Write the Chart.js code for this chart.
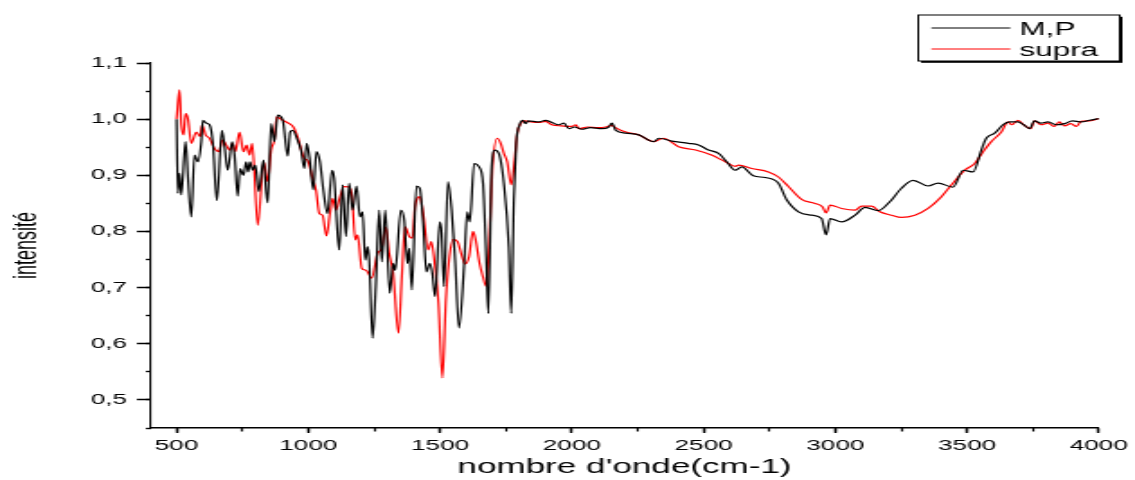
<!DOCTYPE html>
<html>
<head>
<meta charset="utf-8">
<script src="https://cdn.jsdelivr.net/npm/chart.js@4.4.1/dist/chart.umd.min.js"></script>
<style>
  html, body { margin: 0; padding: 0; background: #fff; }
</style>
</head>
<body>
<!-- el lienzo se dibuja a 631px y se estira a 1135px, como la figura original -->
<canvas id="graf" width="631" height="480" style="display:block;width:1135px;height:480px"></canvas>
<script>
const fuente = '"Liberation Sans", Arial, sans-serif';

// marcas de los ejes
const ticksOnda = [500, 1000, 1500, 2000, 2500, 3000, 3500, 4000];
const ticksInt = [0.5, 0.6, 0.7, 0.8, 0.9, 1.0, 1.1];

// M,P (negro)
const ondaMP = [500, 505, 511, 518, 534, 543, 556, 568, 581, 594, 600, 612, 625, 638, 653, 672, 682, 694, 711, 720,
  732, 741, 754, 764, 772, 779, 789, 799, 812, 830, 840, 846, 859, 871, 884, 903, 922, 931, 941, 959,
  972, 985, 994, 1004, 1019, 1031, 1044, 1057, 1073, 1090, 1098, 1117, 1130, 1143, 1155, 1168, 1183, 1196, 1206, 1216,
  1225, 1231, 1244, 1256, 1269, 1279, 1292, 1309, 1322, 1330, 1351, 1364, 1376, 1383, 1393, 1410, 1423, 1436, 1448, 1461,
  1471, 1481, 1499, 1506, 1515, 1530, 1544, 1557, 1572, 1591, 1603, 1613, 1629, 1648, 1663, 1675, 1683, 1696, 1708, 1723,
  1742, 1761, 1770, 1780, 1789, 1802, 1814, 1825, 1834, 1875, 1900, 1924, 1951, 1970, 1989, 2010, 2038, 2070, 2114, 2140,
  2152, 2167, 2205, 2254, 2311, 2330, 2379, 2443, 2481, 2519, 2557, 2588, 2620, 2645, 2689, 2734, 2784, 2816, 2860, 2910,
  2948, 2965, 2980, 3024, 3075, 3113, 3163, 3207, 3251, 3295, 3352, 3390, 3447, 3485, 3523, 3554, 3573, 3605, 3636, 3662,
  3693, 3715, 3737, 3756, 3780, 3807, 3840, 3870, 3900, 3933, 3965, 4000];
const intMP = [1.000, 0.868, 0.904, 0.865, 0.960, 0.897, 0.826, 0.936, 0.924, 0.960, 0.998, 0.993, 0.990, 0.957, 0.855, 0.980, 0.951, 0.909, 0.960, 0.936,
  0.863, 0.912, 0.900, 0.924, 0.906, 0.924, 0.909, 0.918, 0.871, 0.927, 0.871, 0.851, 0.992, 0.960, 1.007, 0.998, 0.934, 0.977, 0.980, 0.963,
  0.945, 0.912, 0.957, 0.933, 0.874, 0.942, 0.924, 0.874, 0.832, 0.909, 0.895, 0.767, 0.883, 0.791, 0.886, 0.838, 0.881, 0.826, 0.835, 0.749,
  0.773, 0.749, 0.610, 0.702, 0.838, 0.746, 0.838, 0.690, 0.743, 0.731, 0.838, 0.820, 0.743, 0.770, 0.696, 0.881, 0.877, 0.814, 0.728, 0.743,
  0.725, 0.684, 0.817, 0.797, 0.702, 0.889, 0.838, 0.749, 0.628, 0.737, 0.835, 0.817, 0.921, 0.915, 0.886, 0.755, 0.654, 0.915, 0.945, 0.939,
  0.886, 0.773, 0.654, 0.856, 0.957, 0.990, 0.998, 0.992, 0.997, 0.995, 0.998, 0.994, 0.990, 0.993, 0.983, 0.986, 0.982, 0.985, 0.983, 0.986,
  0.993, 0.980, 0.975, 0.972, 0.960, 0.966, 0.961, 0.957, 0.954, 0.945, 0.939, 0.924, 0.909, 0.915, 0.899, 0.896, 0.886, 0.856, 0.835, 0.829,
  0.823, 0.794, 0.823, 0.817, 0.829, 0.843, 0.837, 0.853, 0.877, 0.891, 0.881, 0.886, 0.879, 0.909, 0.906, 0.945, 0.966, 0.975, 0.990, 0.995,
  0.995, 0.990, 0.983, 0.997, 0.993, 0.995, 0.990, 0.992, 0.997, 0.995, 0.998, 1.001];

// supra (rojo)
const ondaSupra = [500, 511, 518, 527, 534, 543, 556, 575, 590, 597, 610, 625, 644, 660, 675, 688, 701, 713, 723, 739,
  754, 766, 777, 787, 808, 831, 846, 859, 871, 880, 903, 928, 943, 959, 985, 997, 1016, 1029, 1042, 1054,
  1069, 1082, 1092, 1105, 1117, 1136, 1155, 1166, 1178, 1187, 1203, 1219, 1241, 1263, 1279, 1294, 1307, 1322, 1342, 1355,
  1367, 1383, 1395, 1405, 1423, 1436, 1455, 1467, 1481, 1494, 1509, 1522, 1534, 1550, 1566, 1582, 1595, 1610, 1625, 1635,
  1650, 1663, 1675, 1686, 1698, 1717, 1730, 1742, 1755, 1770, 1784, 1793, 1806, 1818, 1834, 1875, 1900, 1924, 1960, 2000,
  2015, 2027, 2060, 2100, 2129, 2152, 2165, 2205, 2254, 2311, 2348, 2405, 2470, 2530, 2583, 2621, 2633, 2683, 2746, 2784,
  2822, 2872, 2923, 2951, 2965, 2980, 3024, 3075, 3100, 3138, 3169, 3213, 3251, 3302, 3352, 3403, 3441, 3491, 3529, 3561,
  3592, 3630, 3655, 3670, 3693, 3715, 3742, 3756, 3780, 3807, 3830, 3850, 3870, 3894, 3915, 3933, 3965, 4000];
const intSupra = [1.000, 1.052, 0.990, 0.972, 1.010, 1.001, 0.957, 0.977, 0.969, 0.990, 0.972, 0.966, 0.948, 0.942, 0.963, 0.954, 0.945, 0.957, 0.942, 0.977,
  0.942, 0.954, 0.936, 0.957, 0.811, 0.924, 0.889, 0.945, 0.963, 1.004, 0.998, 0.992, 0.986, 0.969, 0.930, 0.927, 0.895, 0.874, 0.832, 0.829,
  0.792, 0.832, 0.859, 0.838, 0.856, 0.880, 0.879, 0.862, 0.785, 0.794, 0.734, 0.731, 0.717, 0.761, 0.770, 0.808, 0.761, 0.726, 0.619, 0.720,
  0.808, 0.791, 0.788, 0.844, 0.862, 0.832, 0.767, 0.782, 0.737, 0.672, 0.539, 0.678, 0.749, 0.786, 0.782, 0.758, 0.742, 0.755, 0.800, 0.785,
  0.743, 0.719, 0.702, 0.773, 0.909, 0.966, 0.957, 0.939, 0.924, 0.883, 0.933, 0.975, 0.992, 0.997, 0.996, 0.994, 0.996, 0.990, 0.988, 0.987,
  0.990, 0.983, 0.986, 0.985, 0.986, 0.989, 0.985, 0.977, 0.972, 0.960, 0.966, 0.951, 0.945, 0.936, 0.924, 0.916, 0.918, 0.912, 0.906, 0.897,
  0.880, 0.857, 0.850, 0.844, 0.833, 0.847, 0.841, 0.838, 0.845, 0.845, 0.835, 0.829, 0.825, 0.829, 0.841, 0.862, 0.883, 0.909, 0.921, 0.942,
  0.960, 0.977, 0.995, 0.990, 0.998, 0.990, 0.983, 0.997, 0.990, 0.993, 0.987, 0.995, 0.988, 0.992, 0.987, 0.996, 0.997, 1.001];

const serie = (xs, ys) => xs.map((x, i) => ({ x: x, y: ys[i] }));

// recuadro de la leyenda con sombra, arriba a la derecha
const leyendaCaja = {
  id: 'leyendaCaja',
  afterDraw(chart) {
    const ctx = chart.ctx;
    const x = 510.5, y = 15, w = 112, h = 46;
    ctx.save();
    ctx.fillStyle = '#000';
    ctx.fillRect(x + 1.5, y + 1.8, w, h);
    ctx.fillStyle = '#fff';
    ctx.fillRect(x, y, w, h);
    ctx.strokeStyle = '#000';
    ctx.lineWidth = 1;
    ctx.strokeRect(x, y, w, h);
    ctx.font = '17.5px ' + fuente;
    ctx.textBaseline = 'alphabetic';
    chart.data.datasets.forEach((ds, i) => {
      const ly = 28 + i * 21;
      ctx.strokeStyle = ds.borderColor;
      ctx.lineWidth = 1;
      ctx.beginPath();
      ctx.moveTo(517.8, ly);
      ctx.lineTo(561.7, ly);
      ctx.stroke();
      ctx.fillStyle = '#000';
      ctx.fillText(ds.label, 566.7, ly + 6.8);
    });
    ctx.restore();
  }
};

const canvas = document.getElementById('graf');
const grafica = new Chart(canvas.getContext('2d'), {
  type: 'line',
  data: {
    datasets: [
      { label: 'M,P', data: serie(ondaMP, intMP), borderColor: '#000000', borderWidth: 1.2,
        pointRadius: 0, cubicInterpolationMode: 'monotone', fill: false },
      { label: 'supra', data: serie(ondaSupra, intSupra), borderColor: '#ff0000', borderWidth: 1.2,
        pointRadius: 0, cubicInterpolationMode: 'monotone', fill: false }
    ]
  },
  options: {
    responsive: false,
    devicePixelRatio: 1,
    animation: false,
    layout: { padding: { left: 0, right: 19, top: 63, bottom: 0 } },
    plugins: { legend: { display: false }, tooltip: { enabled: false } },
    scales: {
      x: {
        type: 'linear', position: 'bottom', weight: 1, min: 400, max: 4000,
        afterBuildTicks: (s) => { s.ticks = ticksOnda.map(v => ({ value: v })); },
        afterFit: (s) => { s.height = 52; },
        border: { display: true, color: '#000', width: 1.5 },
        grid: { drawOnChartArea: false, color: '#000', tickLength: 5, tickWidth: 1.4 },
        ticks: { autoSkip: false, maxRotation: 0, padding: 4,
          color: '#000', font: { family: fuente, size: 14.5 },
          callback: (v) => String(v) },
        title: { display: true, text: "nombre d'onde(cm-1)", color: '#000',
          font: { family: fuente, size: 19.5 }, padding: { top: 0, bottom: 1 } }
      },
      xMenor: {
        type: 'linear', position: 'bottom', weight: 0, min: 400, max: 4000,
        afterFit: (s) => { s.height = 0; },
        border: { display: false },
        grid: { drawOnChartArea: false, color: '#000', tickLength: 3.5, tickWidth: 1.2 },
        ticks: { stepSize: 250, includeBounds: false, autoSkip: false, display: false }
      },
      y: {
        type: 'linear', position: 'left', weight: 1, min: 0.45, max: 1.1,
        afterBuildTicks: (s) => { s.ticks = ticksInt.map(v => ({ value: v })); },
        afterFit: (s) => { s.width = 83.5; },
        border: { display: true, color: '#000', width: 1.1 },
        grid: { drawOnChartArea: false, color: '#000', tickLength: 7.4, tickWidth: 1.5 },
        ticks: { autoSkip: false, padding: 5.5,
          color: '#000', font: { family: fuente, size: 14.5 },
          callback: (v) => v.toFixed(1).replace('.', ',') },
        title: { display: true, text: 'intensité', color: '#000',
          font: { family: fuente, size: 18 }, padding: { top: 4.5, bottom: 0 } }
      },
      yMenor: {
        type: 'linear', position: 'left', weight: 0, min: 0.45, max: 1.1,
        afterFit: (s) => { s.width = 0; },
        border: { display: false },
        grid: { drawOnChartArea: false, color: '#000', tickLength: 2.4, tickWidth: 1.4 },
        ticks: { stepSize: 0.05, includeBounds: false, autoSkip: false, display: false }
      }
    }
  },
  plugins: [leyendaCaja]
});
</script>
</body>
</html>
